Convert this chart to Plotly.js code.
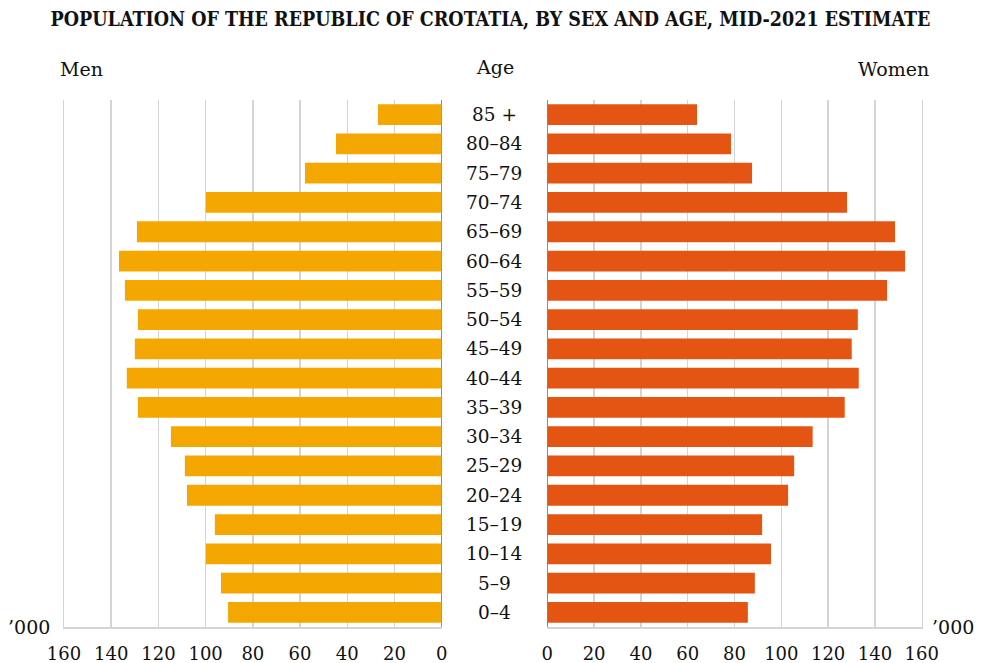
<!DOCTYPE html>
<html><head><meta charset="utf-8">
<script src="https://cdn.plot.ly/plotly-3.0.1.min.js"></script>
<style>html,body{margin:0;padding:0;background:#fff}#chart{width:981px;height:663px}</style>
</head><body><div id="chart"></div>
<script>
const ageGroups = ["0–4","5–9","10–14","15–19","20–24","25–29","30–34","35–39","40–44","45–49","50–54","55–59","60–64","65–69","70–74","75–79","80–84","85 +"];
const men =   [90.5, 93.5, 99.9, 96.1, 107.9, 108.8, 114.7, 128.7, 133.4, 130.0, 128.7, 134.2, 136.7, 129.1, 99.9, 57.9, 44.8, 27.0];
const women = [85.7, 88.7, 95.6, 91.8, 102.9, 105.5, 113.4, 127.1, 133.1, 130.1, 132.7, 145.2, 152.9, 148.6, 128.1, 87.5, 78.5, 64.0];
const tickVals = [0,20,40,60,80,100,120,140,160];

const serif = "DejaVu Serif";
const H = 663, W = 981;
const plotTop = 100, plotBot = 627;
const yDom = [(H-plotBot)/H, (H-plotTop)/H];

const traces = [
  {type:'bar', orientation:'h', y: ageGroups, x: men, xaxis:'x', yaxis:'y',
   marker:{color:'#F4A700'}, hoverinfo:'x+y', name:'Men'},
  {type:'bar', orientation:'h', y: ageGroups, x: women, xaxis:'x2', yaxis:'y2',
   marker:{color:'#E45412'}, hoverinfo:'x+y', name:'Women'}
];

const xCommon = {
  tickvals: tickVals, ticktext: tickVals.map(String), showgrid:true, gridcolor:'#d4d4d4', gridwidth:1.5,
  showline:true, linecolor:'#d4d4d4', linewidth:2, zeroline:true, zerolinecolor:'#8a8a8a', zerolinewidth:1.5,
  ticks:'', ticklabelstandoff: 9, tickfont:{family:serif, size:18, color:'#111'}, fixedrange:true
};
const yCommon = {type:'category', categoryorder:'array', categoryarray: ageGroups, showticklabels:false,
  showgrid:false, zeroline:false, showline:true, linecolor:'#d4d4d4', linewidth:1.5, ticks:'',
  domain:yDom, fixedrange:true};

const annotations = ageGroups.map(a => ({
  x: 494/W, xref:'paper', y: a, yref:'y', text: a, showarrow:false,
  font:{family:serif, size:18.5, color:'#111'}, xanchor:'center', yanchor:'middle'
}));
const lab = (text, x, y, xanchor, size) => ({
  text: text, x: x/W, y: 1 - y/H, xref:'paper', yref:'paper', showarrow:false,
  xanchor: xanchor, yanchor:'middle', font:{family:serif, size:size, color:'#111'}
});
annotations.push(lab('Men', 58, 69, 'left', 19));
annotations.push(lab('Age', 495, 67, 'center', 19));
annotations.push(lab('Women', 931, 69, 'right', 19));
annotations.push(lab('’000', 6, 627, 'left', 19));
annotations.push(lab('’000', 976, 627, 'right', 19));

const layout = {
  width: W, height: H, margin:{l:0,r:0,t:0,b:0}, paper_bgcolor:'#fff', plot_bgcolor:'#fff',
  showlegend:false, bargap:0.29,
  title:{text:'<b>POPULATION OF THE REPUBLIC OF CROTATIA, BY SEX AND AGE, MID-2021 ESTIMATE</b>',
    x:0.5, xanchor:'center', y:1-19/H, yanchor:'middle',
    font:{family:'DejaVu Serif Condensed', size:19.5, color:'#111'}},
  xaxis: Object.assign({}, xCommon, {domain:[64/W, 441.7/W], range:[160, 0], anchor:'y'}),
  xaxis2: Object.assign({}, xCommon, {domain:[547.3/W, 921.7/W], range:[0, 160], anchor:'y2'}),
  yaxis: Object.assign({}, yCommon, {anchor:'x', side:'left'}),
  yaxis2: Object.assign({}, yCommon, {anchor:'x2', side:'right'}),
  annotations: annotations
};
Plotly.newPlot('chart', traces, layout, {displayModeBar:false, staticPlot:true});
</script></body></html>
